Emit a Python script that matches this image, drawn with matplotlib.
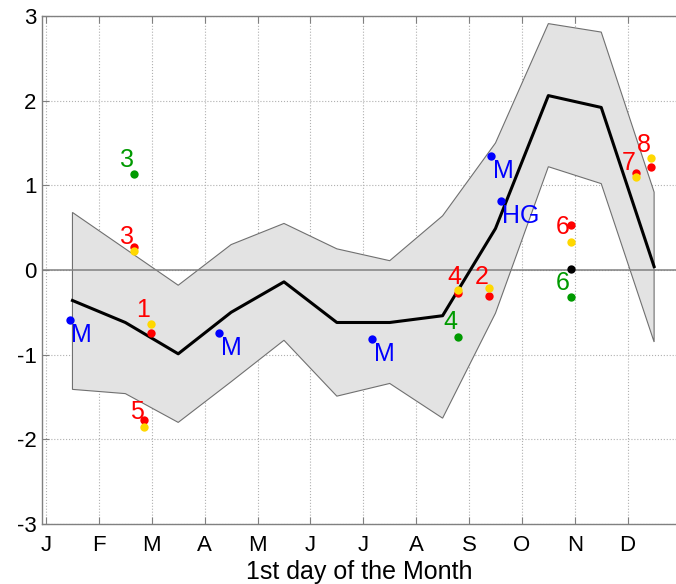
import matplotlib
matplotlib.use("Agg")
import matplotlib.pyplot as plt
import numpy as np

plt.rcParams['font.family'] = ['Liberation Sans', 'DejaVu Sans']
plt.rcParams['axes.unicode_minus'] = False

# month labels, tick at the 1st day of each month (month index 1..12)
month_ticks = [1, 2, 3, 4, 5, 6, 7, 8, 9, 10, 11, 12]
month_labels = ['J', 'F', 'M', 'A', 'M', 'J', 'J', 'A', 'S', 'O', 'N', 'D']
y_ticks = [-3, -2, -1, 0, 1, 2, 3]

# monthly mean and envelope (plotted at mid-month)
mid_month = [1.5, 2.5, 3.5, 4.5, 5.5, 6.5, 7.5, 8.5, 9.5, 10.5, 11.5, 12.5]
mean_vals = [-0.36, -0.62, -0.99, -0.50, -0.14, -0.62, -0.62, -0.54, 0.49, 2.06, 1.92, 0.04]
upper_vals = [0.68, 0.25, -0.18, 0.30, 0.55, 0.25, 0.11, 0.64, 1.50, 2.91, 2.81, 0.92]
lower_vals = [-1.41, -1.46, -1.80, -1.32, -0.83, -1.49, -1.34, -1.75, -0.51, 1.22, 1.02, -0.85]

# blue observations
blue_x = [1.45, 4.28, 7.17, 9.42, 9.60]
blue_y = [-0.59, -0.74, -0.81, 1.35, 0.815]
blue_labels = ['M', 'M', 'M', 'M', 'HG']

# numbered events: red / yellow pairs
event_labels = ['3', '1', '5', '4', '2', '6', '7', '8']
event_x = [2.67, 2.985, 2.86, 8.795, 9.383, 10.92, 12.15, 12.45]
red_y = [0.27, -0.74, -1.77, -0.275, -0.307, 0.53, 1.142, 1.22]
yellow_y = [0.23, -0.64, -1.85, -0.236, -0.217, 0.335, 1.095, 1.32]
# label offset (pixels) relative to the red point
event_off = [(-7.6, 10.6), (-7.7, 22.7), (-7.6, 8.3), (-4.0, 16.6),
             (-7.6, 19.3), (-7.4, -1.7), (-7.4, 10.0), (-7.4, 21.7)]

# green events
green_labels = ['3', '4', '6']
green_x = [2.67, 8.795, 10.92]
green_y = [1.13, -0.788, -0.315]
green_off = [(-7.6, 14.3), (-8.3, 15.0), (-8.0, 13.4)]

black_x = [10.92]
black_y = [0.01]

RED = '#ff0000'
YEL = '#ffd800'
GRN = '#009a00'
BLU = '#0000ff'
px = 0.72  # points per pixel at dpi 100

fig = plt.figure(figsize=(6.76, 5.84), dpi=100)
ax = fig.add_axes([42 / 676, 1 - 524 / 584, 1 - 42 / 676, (524 - 16) / 584])

ax.fill(mid_month + mid_month[::-1], upper_vals + lower_vals[::-1],
        facecolor='#e3e3e3', edgecolor='#707070', linewidth=0.8, zorder=1)
ax.axhline(0, color='#808080', linewidth=1.1, zorder=2)
ax.plot(mid_month, mean_vals, color='black', linewidth=2.2, zorder=3)

ms = 6
ax.plot(blue_x, blue_y, 'o', color=BLU, markersize=ms, markeredgewidth=0, zorder=4)
for x, y, t in zip(blue_x, blue_y, blue_labels):
    ax.annotate(t, (x, y), xytext=(1.5 * px, -15 * px), textcoords='offset points',
                ha='left', va='center', color=BLU, fontsize=18, zorder=5)

ax.plot(event_x, red_y, 'o', color=RED, markersize=ms, markeredgewidth=0, zorder=4)
ax.plot(event_x, yellow_y, 'o', color=YEL, markersize=ms, markeredgewidth=0, zorder=4)
for x, y, t, (dx, dy) in zip(event_x, red_y, event_labels, event_off):
    ax.annotate(t, (x, y), xytext=(dx * px, dy * px), textcoords='offset points',
                ha='center', va='center', color=RED, fontsize=18, zorder=5)

ax.plot(green_x, green_y, 'o', color=GRN, markersize=ms, markeredgewidth=0, zorder=4)
for x, y, t, (dx, dy) in zip(green_x, green_y, green_labels, green_off):
    ax.annotate(t, (x, y), xytext=(dx * px, dy * px), textcoords='offset points',
                ha='center', va='center', color=GRN, fontsize=18, zorder=5)

ax.plot(black_x, black_y, 'o', color='black', markersize=ms, markeredgewidth=0, zorder=4)

ax.set_xlim(0.924, 12.914)
ax.set_ylim(-3, 3)
ax.set_xticks(month_ticks)
ax.set_xticklabels(month_labels)
ax.set_yticks(y_ticks)
ax.set_yticklabels([str(v) for v in y_ticks])
ax.grid(True, linestyle=':', color='#b0b0b0', linewidth=0.8, zorder=0)
ax.set_axisbelow(True)

for side in ['left', 'bottom', 'top']:
    ax.spines[side].set_color('#808080')
    ax.spines[side].set_linewidth(1.0)
ax.spines['right'].set_visible(False)
ax.tick_params(direction='in', length=5, width=0.8, color='#808080',
               top=True, right=False, labelsize=16)
ax.tick_params(axis='x', pad=8)
ax.tick_params(axis='y', pad=4)
ax.set_xlabel('1st day of the Month', fontsize=18, labelpad=3)

fig.savefig('out.png', dpi=100)
